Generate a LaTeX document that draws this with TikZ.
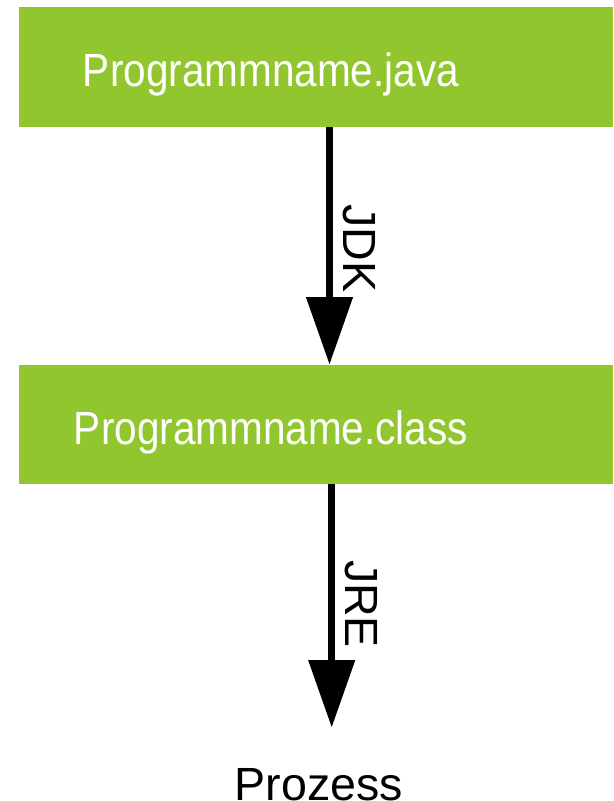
\documentclass[tikz,border=0pt]{standalone}
\usepackage{fontspec}
\setmainfont{Liberation Sans}
\newfontfamily\boxfont{Liberation Sans}[FakeStretch=0.87]
\usepackage{xcolor}
\usepackage{tikz}
\usetikzlibrary{arrows.meta,positioning}

\definecolor{javagreen}{RGB}{146,198,47}
\tikzset{
	box/.style={fill=javagreen, minimum width=11.874cm, minimum height=2.38cm, inner sep=0pt},
	boxtext/.style={text=white, anchor=base, inner sep=0pt, font=\boxfont\fontsize{26.5}{32}\selectfont},
	flow/.style={line width=0.15cm, -{Triangle[width=0.9cm,length=1.35cm]}},
	lbl/.style={rotate=-90, inner sep=0pt, font=\fontsize{26.5}{32}\selectfont}
}

\begin{document}
\begin{tikzpicture}
		\useasboundingbox (0,0) rectangle (12.26,-16.02);

		% the two files
		\node[box] (java) at (6.324,-1.34) {};
		\node[boxtext] (javatext) at (5.42,-1.72) {Programmname.java};
		\node[box] (class) at (6.324,-8.49) {};
		\node[boxtext] (classtext) at (5.42,-8.88) {Programmname.class};
		\node[anchor=base, inner sep=0pt, font=\fontsize{26.5}{32}\selectfont] (prozess) at (6.38,-16.0) {Prozess};

		\coordinate (jdkx) at (6.59,0);
		\coordinate (jrex) at (6.634,0);
		\draw[flow] (java.south -| jdkx) -- (class.north -| jdkx);
		\draw[flow, shorten >=0.8cm] (class.south -| jrex) -- (prozess.north -| jrex);
		\node[lbl] (jdk) at (7.176,-4.967) {JDK};
		\node[lbl] (jre) at (7.233,-12.08) {JRE};
	\end{tikzpicture}
\end{document}
